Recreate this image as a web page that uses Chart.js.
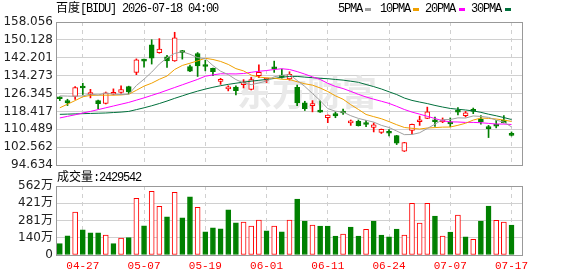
<!DOCTYPE html>
<html>
<head>
<meta charset="utf-8">
<script src="https://cdn.jsdelivr.net/npm/chart.js@4.4.1/dist/chart.umd.min.js"></script>
<style>
  body { margin: 0; background: #fff; width: 578px; height: 276px; overflow: hidden; position: relative; }
  canvas { position: absolute; left: 0; top: 0; }
  .t { position: absolute; font: 12px "Liberation Mono", "Noto Sans CJK SC", monospace; line-height: 14px; color: #000; white-space: nowrap; letter-spacing: -1.2px; }
  .t .c { letter-spacing: 0; }
  .mk { position: absolute; width: 6px; height: 3px; top: 8px; }
</style>
</head>
<body>
<canvas id="price-chart" width="578" height="276"></canvas>
<canvas id="vol-chart" width="578" height="276"></canvas>

<div class="t" style="left:56px;top:2px"><span class="c">百度</span>[BIDU] 2026-07-18 04:00</div>
<div class="t" style="left:338px;top:2px">5PMA</div><div class="mk" style="left:365px;background:#a0a0a0"></div>
<div class="t" style="left:380px;top:2px">10PMA</div><div class="mk" style="left:413px;background:#f0a000"></div>
<div class="t" style="left:425px;top:2px">20PMA</div><div class="mk" style="left:459px;background:#ff00ff"></div>
<div class="t" style="left:471px;top:2px">30PMA</div><div class="mk" style="left:505px;background:#00703c"></div>
<div class="t" style="left:57px;top:171px"><span class="c">成交量</span>:2429542</div>

<script>
// trading days shown (04-22 .. 07-17)
const dates = [
  '04-22','04-23','04-24','04-27','04-28','04-29','04-30',
  '05-01','05-04','05-05','05-06','05-07','05-08','05-11','05-12','05-13','05-14','05-15','05-18','05-19',
  '05-20','05-21','05-22','05-26','05-27','05-28','05-29',
  '06-01','06-02','06-03','06-04','06-05','06-08','06-09','06-10','06-11','06-12','06-15','06-16','06-17',
  '06-18','06-22','06-23','06-24','06-25','06-26','06-29','06-30',
  '07-01','07-02','07-06','07-07','07-08','07-09','07-10','07-13','07-14','07-15','07-16','07-17'
];
const xTickLabels = ['04-27','05-07','05-19','06-01','06-11','06-24','07-07','07-17'];

const opens = [124.7,123.2,125.1,129.2,125.9,123.2,121.9,126.0,126.8,129.4,
  135.7,141.4,147.9,144.4,142.6,140.8,144.9,138.3,144.1,139.2,
  137.5,131.7,128.4,129.2,130.3,128.1,134.2,132.3,138.0,134.5,
  132.8,129.1,122.2,121.0,118.4,115.6,117.4,118.4,113.3,114.0,
  113.3,111.3,109.1,109.0,107.7,100.8,110.0,113.8,115.3,114.1,
  113.7,113.5,118.4,116.5,118.7,114.9,111.3,112.2,114.6,108.6];
const highs = [124.9,123.8,129.4,130.9,128.2,123.4,127.0,128.4,129.8,129.6,
  141.7,141.6,150.2,150.7,143.3,153.5,145.5,138.9,144.5,141.1,
  137.6,133.1,129.8,129.8,132.5,133.5,139.1,133.2,140.7,137.2,
  136.0,130.1,122.9,123.2,123.1,116.9,118.2,119.4,114.6,114.6,
  114.4,113.3,110.6,110.3,107.8,104.7,112.8,116.3,120.3,115.9,
  115.5,115.5,120.1,118.4,119.9,116.6,112.2,114.4,116.6,109.3];
const lows = [123.2,121.0,123.7,125.9,124.4,119.6,121.7,125.7,126.5,126.2,
  134.7,138.0,139.4,144.2,137.9,140.6,141.6,136.0,133.9,136.4,
  134.2,130.4,127.5,125.7,128.8,127.9,133.4,131.2,135.7,133.1,
  132.3,121.0,118.8,118.2,117.9,113.4,115.6,117.1,112.2,111.9,
  111.6,109.3,108.6,107.5,103.7,100.6,108.4,112.2,115.2,111.8,
  113.4,111.6,116.9,115.9,117.4,112.7,106.8,111.1,113.3,107.5];
const closes = [124.0,122.2,129.0,128.8,126.5,121.8,126.6,126.4,128.1,127.0,
  141.3,140.7,142.0,146.1,140.8,151.0,144.5,136.3,138.6,138.3,
  136.0,132.0,128.7,127.6,130.6,132.5,135.7,132.8,137.3,133.5,
  134.8,122.2,119.6,121.5,118.1,116.8,116.4,117.7,113.5,112.1,
  112.6,112.4,110.5,108.7,104.3,104.6,112.7,114.4,118.2,113.8,
  114.7,112.9,118.1,117.8,118.4,113.7,110.8,111.9,113.4,107.8];
// volume in 万 shares
const volumes = [92,157,349,205,181,181,162,92,138,141,
  462,238,519,397,311,511,303,473,389,189,
  222,214,368,262,268,235,284,197,235,189,
  284,456,277,244,236,236,155,171,228,155,
  209,277,163,147,212,163,421,261,421,318,
  155,187,326,147,128,277,399,282,269,243];

// moving-average values before enough days are on screen
const ma5Head = [125.3,125.2,125.1,125.3];
const ma10Head = [120.0,121.6,123.2,124.9,125.5,125.6,125.6,125.6,125.7];
const ma20Head = [115.5,116.2,116.9,117.7,118.4,119.2,120.0,120.8,121.6,122.4,
  123.4,124.4,125.5,126.6,127.8,129.0,130.2,131.4,132.6];
const ma30Head = [117.1,117.2,117.3,117.4,117.5,117.6,117.7,117.9,118.1,118.4,
  119.2,120.0,120.9,121.9,123.0,124.2,125.3,126.4,127.4,128.3,
  129.1,129.8,130.4,130.9,131.4,131.8,132.2,132.6,133.0];

const priceTicks = [94.634,102.562,110.489,118.417,126.345,134.273,142.201,150.128,158.056];
const volTicks = [0,140.5,281,421.5,562];

const RED = '#ff0000', GREEN = '#008000';
const GRID = '#d0d0d0';

function movingAvg(n, head) {
  return closes.map((c, i) => {
    if (i < n - 1) return head[i];
    let s = 0;
    for (let k = i - n + 1; k <= i; k++) s += closes[k];
    return s / n;
  });
}

const slots = dates.concat(['']); // one empty slot on the right
const isUp = closes.map((c, i) => c > opens[i]);
const volUp = closes.map((c, i) => i === 0 ? c > opens[0] : c >= closes[i - 1]);

const xGrid = {
  offset: false,
  drawTicks: false,
  color: ctx => xTickLabels.includes(slots[ctx.index]) ? GRID : 'rgba(0,0,0,0)'
};

const frame = {
  id: 'frame',
  afterDraw(chart) {
    const a = chart.chartArea, g = chart.ctx;
    g.save();
    g.strokeStyle = '#999';
    g.lineWidth = 1;
    g.strokeRect(Math.round(a.left) + 0.5, Math.round(a.top) + 0.5,
      Math.round(a.right - a.left) - 1, Math.round(a.bottom - a.top));
    g.restore();
  }
};

const watermark = {
  id: 'watermark',
  beforeDatasetsDraw(chart) {
    const g = chart.ctx;
    g.save();
    g.fillStyle = '#e9e9e9';
    g.font = 'bold 35px "Noto Sans CJK SC"';
    g.textBaseline = 'middle';
    g.fillText('东方财富', 237, 93);
    g.restore();
  }
};

new Chart(document.getElementById('price-chart'), {
  data: {
    labels: slots,
    datasets: [
      { type: 'line', label: 'MA5', data: movingAvg(5, ma5Head), borderColor: '#a0a0a0', borderWidth: 1, pointRadius: 0, order: 0 },
      { type: 'line', label: 'MA10', data: movingAvg(10, ma10Head), borderColor: '#f0a000', borderWidth: 1, pointRadius: 0, order: 1 },
      { type: 'line', label: 'MA20', data: movingAvg(20, ma20Head), borderColor: '#ff00ff', borderWidth: 1, pointRadius: 0, order: 2 },
      { type: 'line', label: 'MA30', data: movingAvg(30, ma30Head), borderColor: '#00703c', borderWidth: 1, pointRadius: 0, order: 3 },
      {
        type: 'bar', label: 'body', order: 4, grouped: false,
        data: opens.map((o, i) => [o, closes[i]]),
        backgroundColor: isUp.map(u => u ? '#ffffff' : GREEN),
        borderColor: isUp.map(u => u ? RED : GREEN),
        borderWidth: 1, borderSkipped: false, barThickness: 5, minBarLength: 2
      },
      {
        type: 'bar', label: 'wick', order: 5, grouped: false,
        data: lows.map((l, i) => [l, highs[i]]),
        backgroundColor: isUp.map(u => u ? RED : GREEN),
        barThickness: 1
      }
    ]
  },
  options: {
    responsive: false,
    animation: false,
    events: [],
    layout: { padding: { left: 0, right: 55, top: 22, bottom: 111 } },
    plugins: { legend: { display: false }, tooltip: { enabled: false } },
    scales: {
      x: {
        offset: true,
        grid: xGrid,
        border: { display: false, dash: [4, 4] },
        ticks: { display: false, autoSkip: false },
        afterFit: s => { s.height = 0; }
      },
      y: {
        min: priceTicks[0],
        max: priceTicks[priceTicks.length - 1],
        afterBuildTicks: s => { s.ticks = priceTicks.map(v => ({ value: v })); },
        afterFit: s => { s.width = 56; },
        grid: { color: GRID, drawTicks: false },
        border: { display: false },
        ticks: {
          autoSkip: false, padding: 3, color: '#222',
          font: { family: '"DejaVu Sans"', size: 12 },
          callback: v => v.toFixed(3)
        }
      }
    }
  },
  plugins: [watermark, frame]
});

new Chart(document.getElementById('vol-chart'), {
  type: 'bar',
  data: {
    labels: slots,
    datasets: [{
      label: '成交量',
      data: volumes,
      backgroundColor: volUp.map(u => u ? '#ffffff' : GREEN),
      borderColor: volUp.map(u => u ? RED : GREEN),
      borderWidth: 1, borderSkipped: false, barThickness: 5
    }]
  },
  options: {
    responsive: false,
    animation: false,
    events: [],
    layout: { padding: { left: 0, right: 55, top: 186, bottom: 0 } },
    plugins: { legend: { display: false }, tooltip: { enabled: false } },
    scales: {
      x: {
        offset: true,
        grid: xGrid,
        border: { display: false, dash: [4, 4] },
        afterFit: s => { s.height = 21; },
        ticks: {
          autoSkip: false, maxRotation: 0, padding: 4, color: RED,
          font: { family: '"Liberation Mono"', size: 11 },
          callback: (v, i) => xTickLabels.includes(slots[i]) ? slots[i] : ''
        }
      },
      y: {
        min: 0,
        max: volTicks[volTicks.length - 1],
        afterBuildTicks: s => { s.ticks = volTicks.map(v => ({ value: v })); },
        afterFit: s => { s.width = 56; },
        grid: { color: GRID, drawTicks: false },
        border: { display: false },
        ticks: {
          autoSkip: false, padding: 3, color: '#222',
          font: { family: '"DejaVu Sans", "Noto Sans CJK SC"', size: 12 },
          callback: v => v === 0 ? '0' : Math.floor(v) + '万'
        }
      }
    }
  },
  plugins: [frame]
});
</script>
</body>
</html>
